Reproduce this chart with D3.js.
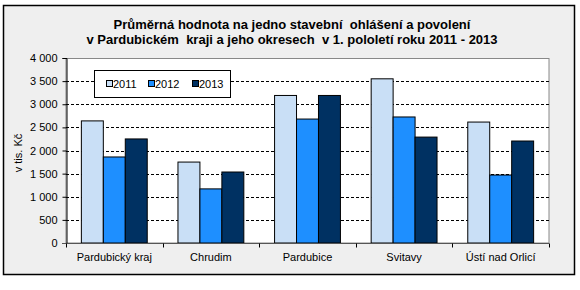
<!DOCTYPE html>
<html>
<head>
<meta charset="utf-8">
<script src="https://cdn.jsdelivr.net/npm/d3@7/dist/d3.min.js"></script>
<style>
  body { margin: 0; background: #fff; }
  svg text { font-family: Arial, "Liberation Sans", sans-serif; }
</style>
</head>
<body>
<svg id="chart" width="580" height="290"></svg>
<script>
// data
var regions = ["Pardubický kraj", "Chrudim", "Pardubice", "Svitavy", "Ústí nad Orlicí"];
var years = ["2011", "2012", "2013"];
var values2011 = [2640, 1750, 3190, 3550, 2615];
var values2012 = [1860, 1170, 2680, 2725, 1470];
var values2013 = [2250, 1535, 3190, 2290, 2205];
var yTicks = [0, 500, 1000, 1500, 2000, 2500, 3000, 3500, 4000];
var colors = ["#C9DFF6", "#1E8FFF", "#003162"];

var svg = d3.select("#chart");

// outer frame
svg.append("rect")
  .attr("x", 3.5).attr("y", 5.5)
  .attr("width", 571).attr("height", 269)
  .attr("fill", "#EFEFEF")
  .attr("stroke", "#000")
  .attr("stroke-width", 1.5);

// title
var title = svg.append("text")
  .attr("x", 292).attr("text-anchor", "middle")
  .style("font-weight", "bold").style("font-size", "13px")
  .style("white-space", "pre");
title.append("tspan").attr("x", 292).attr("y", 29)
  .text("Průměrná hodnota na jedno stavební  ohlášení a povolení");
title.append("tspan").attr("x", 292).attr("y", 44)
  .text("v Pardubickém  kraji a jeho okresech  v 1. pololetí roku 2011 - 2013");

// scales
var x0 = d3.scaleBand().domain(regions).range([66, 549]);
var x1 = d3.scaleBand().domain(years).range([0, x0.bandwidth()]).paddingOuter(0.7);
var y = d3.scaleLinear().domain([0, 4000]).range([243, 58]);

// plot area
svg.append("rect")
  .attr("x", 66).attr("y", 58.5)
  .attr("width", 483).attr("height", 184.5)
  .attr("fill", "#fff")
  .attr("stroke", "#888");

// gridlines
svg.append("g")
  .selectAll("line")
  .data(yTicks.filter(d => d > 0 && d < 4000))
  .enter().append("line")
  .attr("x1", 66).attr("x2", 549)
  .attr("y1", d => Math.round(y(d)) + 0.5)
  .attr("y2", d => Math.round(y(d)) + 0.5)
  .attr("stroke", "#000")
  .attr("stroke-dasharray", "3,2");

// bars
var series = [values2011, values2012, values2013];
var groups = svg.append("g")
  .selectAll("g")
  .data(regions)
  .enter().append("g")
  .attr("transform", d => "translate(" + x0(d) + ",0)");

groups.selectAll("rect")
  .data((d, i) => years.map((yr, j) => ({ year: yr, value: series[j][i] })))
  .enter().append("rect")
  .attr("x", d => x1(d.year))
  .attr("y", d => y(d.value))
  .attr("width", x1.bandwidth())
  .attr("height", d => y(0) - y(d.value))
  .attr("fill", (d, j) => colors[j])
  .attr("stroke", "#000")
  .attr("stroke-width", 1);

// y axis
var yAxis = svg.append("g")
  .attr("transform", "translate(66.5,0)")
  .call(d3.axisLeft(y).tickValues(yTicks).tickSize(4).tickPadding(5)
    .tickFormat(d => d3.format(",")(d).replace(",", " ")));
yAxis.select(".domain").attr("stroke", "#000");
yAxis.selectAll("text").style("font-size", "11px").attr("fill", "#000");

// x axis
var xAxis = svg.append("g")
  .attr("transform", "translate(0,243.5)");
xAxis.append("line")
  .attr("x1", 62).attr("x2", 549)
  .attr("stroke", "#555");
xAxis.selectAll(".tk")
  .data(regions.map(r => x0(r)).concat([x0.range()[1]]))
  .enter().append("line")
  .attr("class", "tk")
  .attr("x1", d => Math.round(d) + 0.5).attr("x2", d => Math.round(d) + 0.5)
  .attr("y1", 0).attr("y2", 4)
  .attr("stroke", "#000");
xAxis.selectAll("text")
  .data(regions)
  .enter().append("text")
  .attr("x", d => x0(d) + x0.bandwidth() / 2)
  .attr("y", 17)
  .attr("text-anchor", "middle")
  .style("font-size", "11px")
  .text(d => d);

// y axis label
svg.append("text")
  .attr("transform", "translate(22,153) rotate(-90)")
  .attr("text-anchor", "middle")
  .style("font-size", "11px")
  .text("v tis. Kč");

// legend
var legend = svg.append("g");
legend.append("rect")
  .attr("x", 94.5).attr("y", 70.5)
  .attr("width", 136).attr("height", 27)
  .attr("fill", "#fff").attr("stroke", "#000");
var legendX = [106, 148, 192];
var items = legend.selectAll("g")
  .data(years)
  .enter().append("g")
  .attr("transform", (d, i) => "translate(" + legendX[i] + ",84)");
items.append("rect")
  .attr("x", 0.5).attr("y", -3.5)
  .attr("width", 6).attr("height", 6)
  .attr("fill", (d, i) => colors[i])
  .attr("stroke", "#000");
items.append("text")
  .attr("x", 7).attr("y", 4)
  .style("font-size", "11px")
  .text(d => d);
</script>
</body>
</html>
